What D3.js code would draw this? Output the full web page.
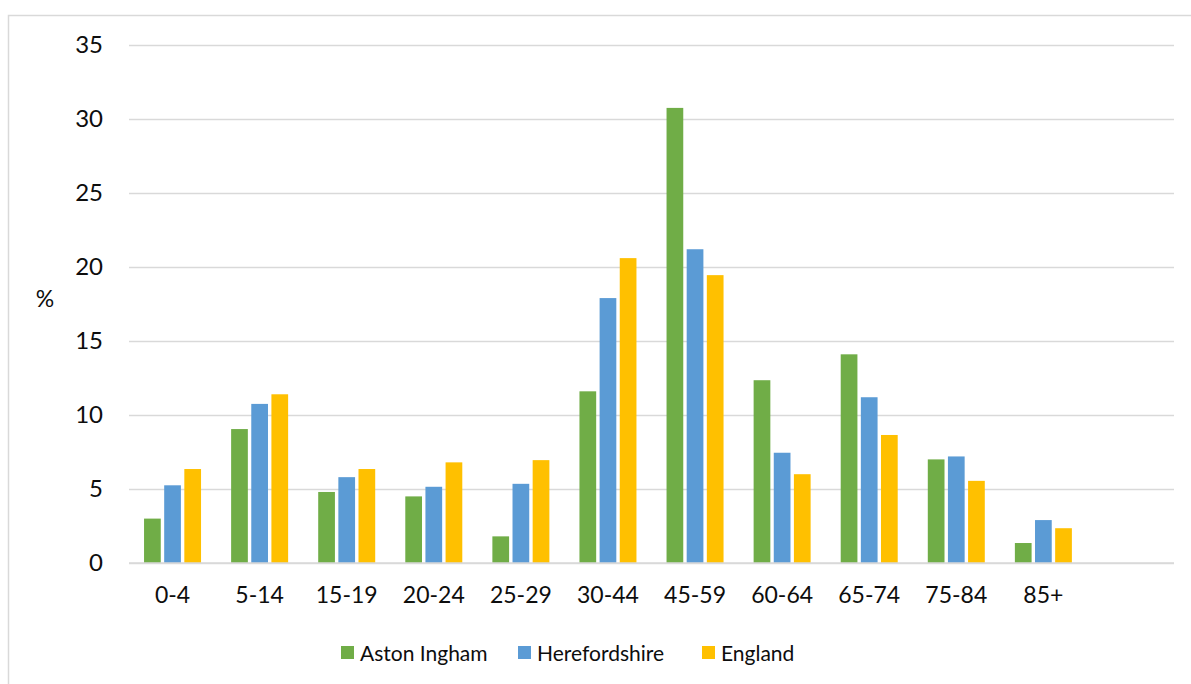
<!DOCTYPE html>
<html>
<head>
<meta charset="utf-8">
<script src="https://cdn.jsdelivr.net/npm/d3@7"></script>
<style>
  body { margin: 0; background: #fff; }
  svg { display: block; }
  svg text { font-family: Lato, "Open Sans", "Noto Sans", sans-serif; }
</style>
</head>
<body>
<div id="chart"></div>
<script>
// age bands, last slot is empty in the original chart
const categories = ['0-4', '5-14', '15-19', '20-24', '25-29', '30-44', '45-59', '60-64', '65-74', '75-84', '85+', ''];
const seriesNames = ['Aston Ingham', 'Herefordshire', 'England'];
const astonIngham = [3.0, 9.05, 4.8, 4.5, 1.8, 11.6, 30.75, 12.35, 14.1, 7.0, 1.35];
const herefordshire = [5.25, 10.75, 5.8, 5.15, 5.35, 17.9, 21.2, 7.45, 11.2, 7.2, 2.9];
const england = [6.35, 11.4, 6.35, 6.8, 6.95, 20.6, 19.45, 6.0, 8.65, 5.55, 2.35];
const yTicks = [0, 5, 10, 15, 20, 25, 30, 35];

const colors = ['#70ad47', '#5b9bd5', '#ffc000'];
const textColor = '#0d0d0d';
const gridColor = '#d9d9d9';

const width = 1191, height = 684;
const margin = { top: 45, right: 17, bottom: 121, left: 129 };

const svg = d3.select('#chart').append('svg')
  .attr('width', width)
  .attr('height', height);

// chart area border (only left and top edges are visible in the frame)
svg.append('rect')
  .attr('x', 8.5).attr('y', 15.5)
  .attr('width', width + 20).attr('height', height + 20)
  .attr('fill', 'none')
  .attr('stroke', gridColor)
  .attr('stroke-width', 1.5);

const plotW = width - margin.left - margin.right,
      plotH = height - margin.top - margin.bottom;

const g = svg.append('g')
  .attr('transform', 'translate(' + margin.left + ',' + margin.top + ')');

//-------------------- Scales --------------------
const x0 = d3.scaleBand()
  .domain(d3.range(categories.length))
  .range([0, plotW])
  .paddingInner(0);

const x1 = d3.scaleBand()
  .domain(seriesNames)
  .range([0, 57])
  .paddingInner(0.17);

const y = d3.scaleLinear()
  .domain([0, 35])
  .range([plotH, 0]);

//-------------------- Grid + Y axis --------------------
const yAxis = d3.axisLeft(y).tickValues(yTicks).tickSize(-plotW).tickPadding(26);
const yAxisView = g.append('g').call(yAxis);
yAxisView.select('.domain').remove();
yAxisView.selectAll('line')
  .attr('stroke', gridColor)
  .attr('stroke-width', 1.5);
yAxisView.selectAll('text')
  .attr('fill', textColor)
  .style('font-size', '24px');

svg.append('text')
  .attr('x', 45).attr('y', 307)
  .attr('text-anchor', 'middle')
  .attr('fill', textColor)
  .style('font-size', '23px')
  .text('%');

//-------------------- Bars --------------------
const seriesData = [astonIngham, herefordshire, england];
const groups = g.append('g')
  .selectAll('g')
  .data(seriesData)
  .enter()
  .append('g')
  .attr('fill', (d, i) => colors[i]);

groups.each(function(values, si) {
  d3.select(this).selectAll('rect')
    .data(values)
    .enter()
    .append('rect')
    .attr('x', (d, i) => x0(i) + (x0.bandwidth() - x1.range()[1]) / 2 + x1(seriesNames[si]))
    .attr('y', d => y(d))
    .attr('width', x1.bandwidth())
    .attr('height', d => y(0) - y(d));
});

//-------------------- X axis --------------------
const xAxis = d3.axisBottom(x0).tickFormat(i => categories[i]).tickSize(0).tickPadding(24);
const xAxisView = g.append('g')
  .attr('transform', 'translate(0,' + plotH + ')')
  .call(xAxis);
xAxisView.select('.domain').remove();
xAxisView.selectAll('text')
  .attr('fill', textColor)
  .style('font-size', '23px');

// baseline redrawn on top of bars
g.append('line')
  .attr('x1', 0).attr('x2', plotW)
  .attr('y1', y(0)).attr('y2', y(0))
  .attr('stroke', gridColor)
  .attr('stroke-width', 1.5);

//-------------------- Legend --------------------
const legendX = [341, 518, 702];
const legend = svg.append('g')
  .selectAll('g')
  .data(seriesNames)
  .enter()
  .append('g')
  .attr('transform', (d, i) => 'translate(' + legendX[i] + ',646)');
legend.append('rect')
  .attr('width', 13).attr('height', 13)
  .attr('fill', (d, i) => colors[i]);
legend.append('text')
  .attr('x', 19).attr('y', 15)
  .attr('fill', textColor)
  .style('font-size', '21px')
  .text(d => d);
</script>
</body>
</html>
